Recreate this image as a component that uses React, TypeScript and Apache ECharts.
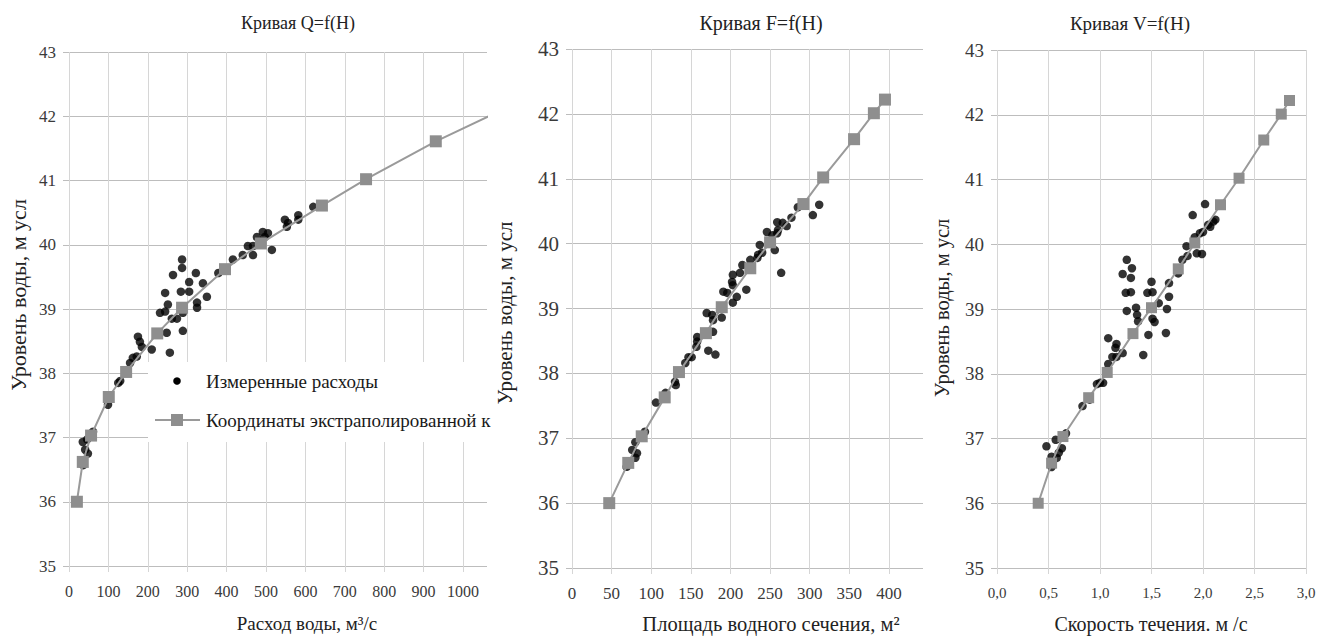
import React, { useEffect, useRef } from "react";
import * as echarts from "echarts";

// ---- tick values ----
const H_TICKS = [35, 36, 37, 38, 39, 40, 41, 42, 43];
const Q_TICKS = [0, 100, 200, 300, 400, 500, 600, 700, 800, 900, 1000];
const F_TICKS = [0, 50, 100, 150, 200, 250, 300, 350, 400];
const V_TICKS = [0, 0.5, 1.0, 1.5, 2.0, 2.5, 3.0];

// ---- extrapolated curve coordinates ----
const LINE_H = [36.0, 36.62, 37.03, 37.63, 38.02, 38.62, 39.02, 39.62, 40.02, 40.61, 41.02, 41.61, 42.01, 42.22];
const LINE_Q = [20, 35, 56, 101, 145, 224, 287, 396, 487, 642, 754, 931, 1069, 1120];
const LINE_F = [47, 71, 88, 117, 135, 169, 189, 225, 250, 292, 317, 356, 381, 395];
const LINE_V = [0.40, 0.53, 0.64, 0.89, 1.07, 1.32, 1.50, 1.76, 1.92, 2.17, 2.35, 2.59, 2.76, 2.84];

// ---- measured points [x, H] ----
const MEAS_Q: number[][] = [
  [36, 36.57], [35, 36.93], [41, 36.81], [48, 36.75], [46, 36.97], [61, 37.09], [99, 37.51], [125, 37.85],
  [130, 37.88], [155, 38.16], [162, 38.24], [172, 38.26], [175, 38.57], [180, 38.49], [185, 38.41], [210, 38.37],
  [256, 38.32], [248, 38.63], [289, 38.66], [261, 38.85], [274, 38.85], [289, 38.94], [231, 38.94], [244, 38.96],
  [251, 39.07], [325, 39.02], [325, 39.1], [350, 39.19], [244, 39.25], [284, 39.27], [305, 39.27], [340, 39.4],
  [305, 39.42], [322, 39.56], [264, 39.53], [287, 39.64], [287, 39.77], [379, 39.56], [416, 39.77], [441, 39.84],
  [467, 39.84], [454, 39.98], [467, 39.98], [515, 39.92], [477, 40.12], [497, 40.12], [492, 40.2], [505, 40.18],
  [548, 40.39], [556, 40.34], [553, 40.28], [582, 40.46], [582, 40.39], [620, 40.59],
];
const MEAS_F: number[][] = [
  [69, 36.56], [80, 36.7], [82, 36.77], [76, 36.82], [80, 36.94], [92, 37.1], [106, 37.55], [118, 37.7],
  [130, 37.87], [131, 37.82], [143, 38.16], [147, 38.25], [151, 38.25], [172, 38.35], [181, 38.29], [157, 38.41],
  [158, 38.49], [158, 38.56], [178, 38.64], [170, 38.93], [177, 38.9], [178, 38.82], [189, 38.86], [203, 39.09],
  [208, 39.18], [191, 39.26], [196, 39.24], [220, 39.29], [203, 39.36], [202, 39.41], [212, 39.55], [203, 39.52],
  [215, 39.67], [225, 39.75], [234, 39.78], [235, 39.83], [240, 39.86], [237, 39.98], [256, 39.9], [264, 39.55],
  [246, 40.18], [253, 40.13], [259, 40.16], [260, 40.21], [259, 40.33], [266, 40.32], [271, 40.27], [277, 40.4],
  [285, 40.56], [304, 40.44], [312, 40.6],
];
const MEAS_V: number[][] = [
  [0.53, 36.56], [0.53, 36.72], [0.58, 36.7], [0.6, 36.78], [0.63, 36.85], [0.48, 36.88], [0.57, 36.98], [0.67, 37.08],
  [0.83, 37.5], [0.9, 37.6], [0.97, 37.84], [1.0, 37.86], [1.03, 37.86], [1.08, 38.15], [1.12, 38.26], [1.16, 38.26],
  [1.22, 38.32], [1.42, 38.29], [1.08, 38.55], [1.16, 38.46], [1.15, 38.4], [1.47, 38.6], [1.64, 38.63], [1.51, 38.85],
  [1.53, 38.8], [1.37, 38.81], [1.36, 38.91], [1.26, 38.97], [1.35, 39.02], [1.65, 39.0], [1.57, 39.09], [1.67, 39.19],
  [1.25, 39.25], [1.3, 39.26], [1.46, 39.25], [1.51, 39.26], [1.5, 39.42], [1.67, 39.4], [1.3, 39.48], [1.22, 39.54],
  [1.31, 39.63], [1.26, 39.76], [1.76, 39.55], [1.8, 39.76], [1.85, 39.82], [1.94, 39.86], [1.99, 39.85], [1.84, 39.97],
  [1.92, 40.11], [1.97, 40.17], [2.0, 40.19], [2.05, 40.3], [2.07, 40.27], [2.1, 40.35], [2.12, 40.38], [1.9, 40.45],
  [2.02, 40.62],
];

const TITLES = ["Кривая Q=f(H)", "Кривая F=f(H)", "Кривая V=f(H)"];
const X_NAMES = ["Расход воды, м³/с", "Площадь водного сечения, м²", "Скорость течения. м /с"];
const Y_NAME = "Уровень воды, м усл";
const SERIES_NAMES = ["Измеренные расходы", "Координаты экстраполированной кривой"];
// the legend entry is cut off by the panel edge in the original picture
const LEGEND_VISIBLE_CHARS = 31;

const FONT = "Liberation Serif";
const H_GRID = "#bdbdbd";
const V_GRID = "#d6d6d6";
const LABEL = "#3a3a3a";
const GRAY = "#8e8e8e";

function yAxis(gridIndex: number, fontSize: number) {
  return {
    type: "value",
    gridIndex,
    min: H_TICKS[0],
    max: H_TICKS[H_TICKS.length - 1],
    interval: H_TICKS[1] - H_TICKS[0],
    axisLine: { show: false },
    axisTick: { show: true, length: 6, lineStyle: { color: H_GRID } },
    splitLine: { show: true, lineStyle: { color: H_GRID, width: 1 } },
    axisLabel: { fontFamily: FONT, fontSize, color: LABEL, margin: 13, formatter: (v: number) => String(v) },
  };
}

function xAxis(gridIndex: number, ticks: number[], max: number, fontSize: number, fmt?: (v: number) => string) {
  return {
    type: "value",
    gridIndex,
    min: ticks[0],
    max,
    interval: ticks[1] - ticks[0],
    axisLine: { show: false },
    axisTick: { show: true, length: 6, lineStyle: { color: V_GRID } },
    splitLine: { show: true, showMaxLine: max === ticks[ticks.length - 1], lineStyle: { color: V_GRID, width: 1 } },
    axisLabel: {
      fontFamily: FONT,
      fontSize,
      color: LABEL,
      margin: 17,
      showMaxLabel: max === ticks[ticks.length - 1],
      formatter: fmt || ((v: number) => String(v)),
    },
  };
}

function txt(x: number, y: number, text: string, fontSize: number, extra: any = {}) {
  const el: any = {
    type: "text",
    x,
    y,
    z: 100,
    style: {
      text,
      fontFamily: FONT,
      fontSize,
      fill: extra.fill || "#222",
      align: extra.align || "center",
      verticalAlign: "middle",
    },
  };
  if (extra.rotation) el.rotation = extra.rotation;
  return el;
}

export default function App() {
  const ref = useRef<HTMLDivElement>(null);

  useEffect(() => {
    if (!ref.current) return;
    const chart = echarts.init(ref.current, null, { renderer: "svg" });
    const pairs = (xs: number[]) => xs.map((x, i) => [x, LINE_H[i]]);

    const scatter = (idx: number, data: number[][]) => ({
      name: SERIES_NAMES[0],
      type: "scatter",
      xAxisIndex: idx,
      yAxisIndex: idx,
      data,
      symbol: "circle",
      symbolSize: 8.5,
      itemStyle: { color: "#000" },
      z: 3,
    });
    const line = (idx: number, xs: number[], size: number) => ({
      name: SERIES_NAMES[1],
      type: "line",
      xAxisIndex: idx,
      yAxisIndex: idx,
      data: pairs(xs),
      symbol: "rect",
      symbolSize: size,
      showSymbol: true,
      clip: true,
      itemStyle: { color: GRAY },
      lineStyle: { color: "#9a9a9a", width: 2 },
      z: 4,
    });

    const option: any = {
      animation: false,
      backgroundColor: "#ffffff",
      grid: [
        { left: 69, top: 52, width: 418, height: 514 },
        { left: 572, top: 49, width: 351, height: 519 },
        { left: 997, top: 50, width: 309, height: 518 },
      ],
      xAxis: [
        xAxis(0, Q_TICKS, 1061, 16),
        xAxis(1, F_TICKS, 443, 17),
        xAxis(2, V_TICKS, 3, 15, (v: number) => v.toFixed(1).replace(".", ",")),
      ],
      yAxis: [yAxis(0, 17), yAxis(1, 21), yAxis(2, 19)],
      series: [
        scatter(0, MEAS_Q),
        line(0, LINE_Q, 12),
        scatter(1, MEAS_F),
        line(1, LINE_F, 12),
        scatter(2, MEAS_V),
        line(2, LINE_V, 11),
      ],
      graphic: [
        txt(298, 23, TITLES[0], 18),
        txt(761, 23, TITLES[1], 20),
        txt(1130, 23, TITLES[2], 19),
        txt(307, 623, X_NAMES[0], 19),
        txt(771, 624, X_NAMES[1], 20.5),
        txt(1151, 624, X_NAMES[2], 20),
        txt(18, 295, Y_NAME, 22, { rotation: Math.PI / 2 }),
        txt(505, 313, Y_NAME, 21, { rotation: Math.PI / 2 }),
        txt(942, 308, Y_NAME, 20.5, { rotation: Math.PI / 2 }),
        // legend
        { type: "rect", z: 90, shape: { x: 148, y: 362, width: 339, height: 80 }, style: { fill: "#fff" } },
        { type: "circle", z: 100, shape: { cx: 177, cy: 381, r: 3.8 }, style: { fill: "#000" } },
        { type: "line", z: 100, shape: { x1: 155, y1: 420, x2: 200, y2: 420 }, style: { stroke: "#9a9a9a", lineWidth: 2 } },
        { type: "rect", z: 101, shape: { x: 171, y: 414, width: 12, height: 12 }, style: { fill: GRAY } },
        txt(206, 381, SERIES_NAMES[0], 19, { align: "left", fill: "#1a1a1a" }),
        txt(206, 420, SERIES_NAMES[1].slice(0, LEGEND_VISIBLE_CHARS), 19, { align: "left", fill: "#1a1a1a" }),
      ],
    };
    chart.setOption(option);
    return () => chart.dispose();
  }, []);

  return (
    <>
      <style>{`.rs-chart text { font-family: "Liberation Serif", serif !important; }`}</style>
      <div
        ref={ref}
        className="rs-chart"
        style={{ position: "fixed", left: 0, top: 0, width: 1322, height: 637, background: "#fff" }}
      />
    </>
  );
}
